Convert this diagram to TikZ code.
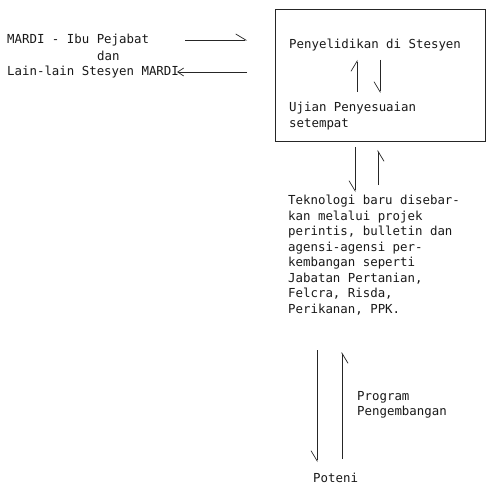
\documentclass[tikz,border=0pt]{standalone}
\usepackage{fontspec}
\setmonofont{DejaVu Sans Mono}
\usetikzlibrary{arrows.meta}
\begin{document}
\begin{tikzpicture}[x=1pt,y=1pt,
  txt/.style={font=\ttfamily\fontsize{12.4}{15.5}\selectfont, inner sep=0pt, text=black!90, align=left},
  ln/.style={line width=0.7pt, draw=black!85},
  boxst/.style={ln, line width=0.9pt, inner sep=0pt, minimum width=210pt, minimum height=132pt},
  harpl/.style={ln, -{Straight Barb[left, length=10pt, width=12pt, line width=0.7pt]}},
  harpr/.style={ln, -{Straight Barb[right, length=10pt, width=12pt, line width=0.7pt]}},
  harpf/.style={ln, -{Straight Barb[length=6pt, width=8pt, line width=0.7pt]}}]
\fill[white] (0,0) rectangle (487,-489);
\useasboundingbox (0,0) rectangle (487,-489);

% left texts
\node[txt, anchor=west] (mardi) at (7,-40) {MARDI - Ibu Pejabat};
\node[txt, anchor=west] (dan) at (97,-56) {dan};
\node[txt, anchor=west] (lain) at (7,-72) {Lain-lain Stesyen MARDI};

% box
\node[boxst, anchor=north west] (box) at (275,-9) {};
\node[txt, anchor=west] (peny) at (289,-45) {Penyelidikan di Stesyen};
\node[txt, anchor=north west] (ujian) at (289,-102) {Ujian Penyesuaian\\setempat};

% arrows left side
\coordinate (a1s) at (185,-40);
\coordinate (a1e) at (247,-40);
\draw[harpl] (a1s) -- (a1e);
\coordinate (a2s) at (247,-72);
\coordinate (a2e) at (177,-72);
\draw[harpf] (a2s) -- (a2e);

% arrows inside box
\coordinate (b1s) at (357,-92);
\coordinate (b1e) at (357,-60);
\draw[harpl] (b1s) -- (b1e);
\coordinate (b2s) at (380,-60);
\coordinate (b2e) at (380,-93);
\draw[harpr] (b2s) -- (b2e);

% arrows below box
\coordinate (c1s) at (355,-147);
\coordinate (c1e) at (355,-192);
\draw[harpr] (c1s) -- (c1e);
\coordinate (c2s) at (378,-185);
\coordinate (c2e) at (378,-150);
\draw[harpr] (c2s) -- (c2e);

% text block
\node[txt, anchor=north west] (tek) at (288,-195) {Teknologi baru disebar-\\kan melalui projek\\perintis, bulletin dan\\agensi-agensi per-\\kembangan seperti\\Jabatan Pertanian,\\Felcra, Risda,\\Perikanan, PPK.};

% bottom arrows
\coordinate (d1s) at (317,-350);
\coordinate (d1e) at (317,-462);
\draw[harpr] (d1s) -- (d1e);
\coordinate (d2s) at (342,-459);
\coordinate (d2e) at (342,-352);
\draw[harpr] (d2s) -- (d2e);

\node[txt, anchor=north west] (prog) at (357,-391) {Program\\Pengembangan};
\node[txt, anchor=west] (pet) at (313,-478) {Poteni};
\end{tikzpicture}
\end{document}
